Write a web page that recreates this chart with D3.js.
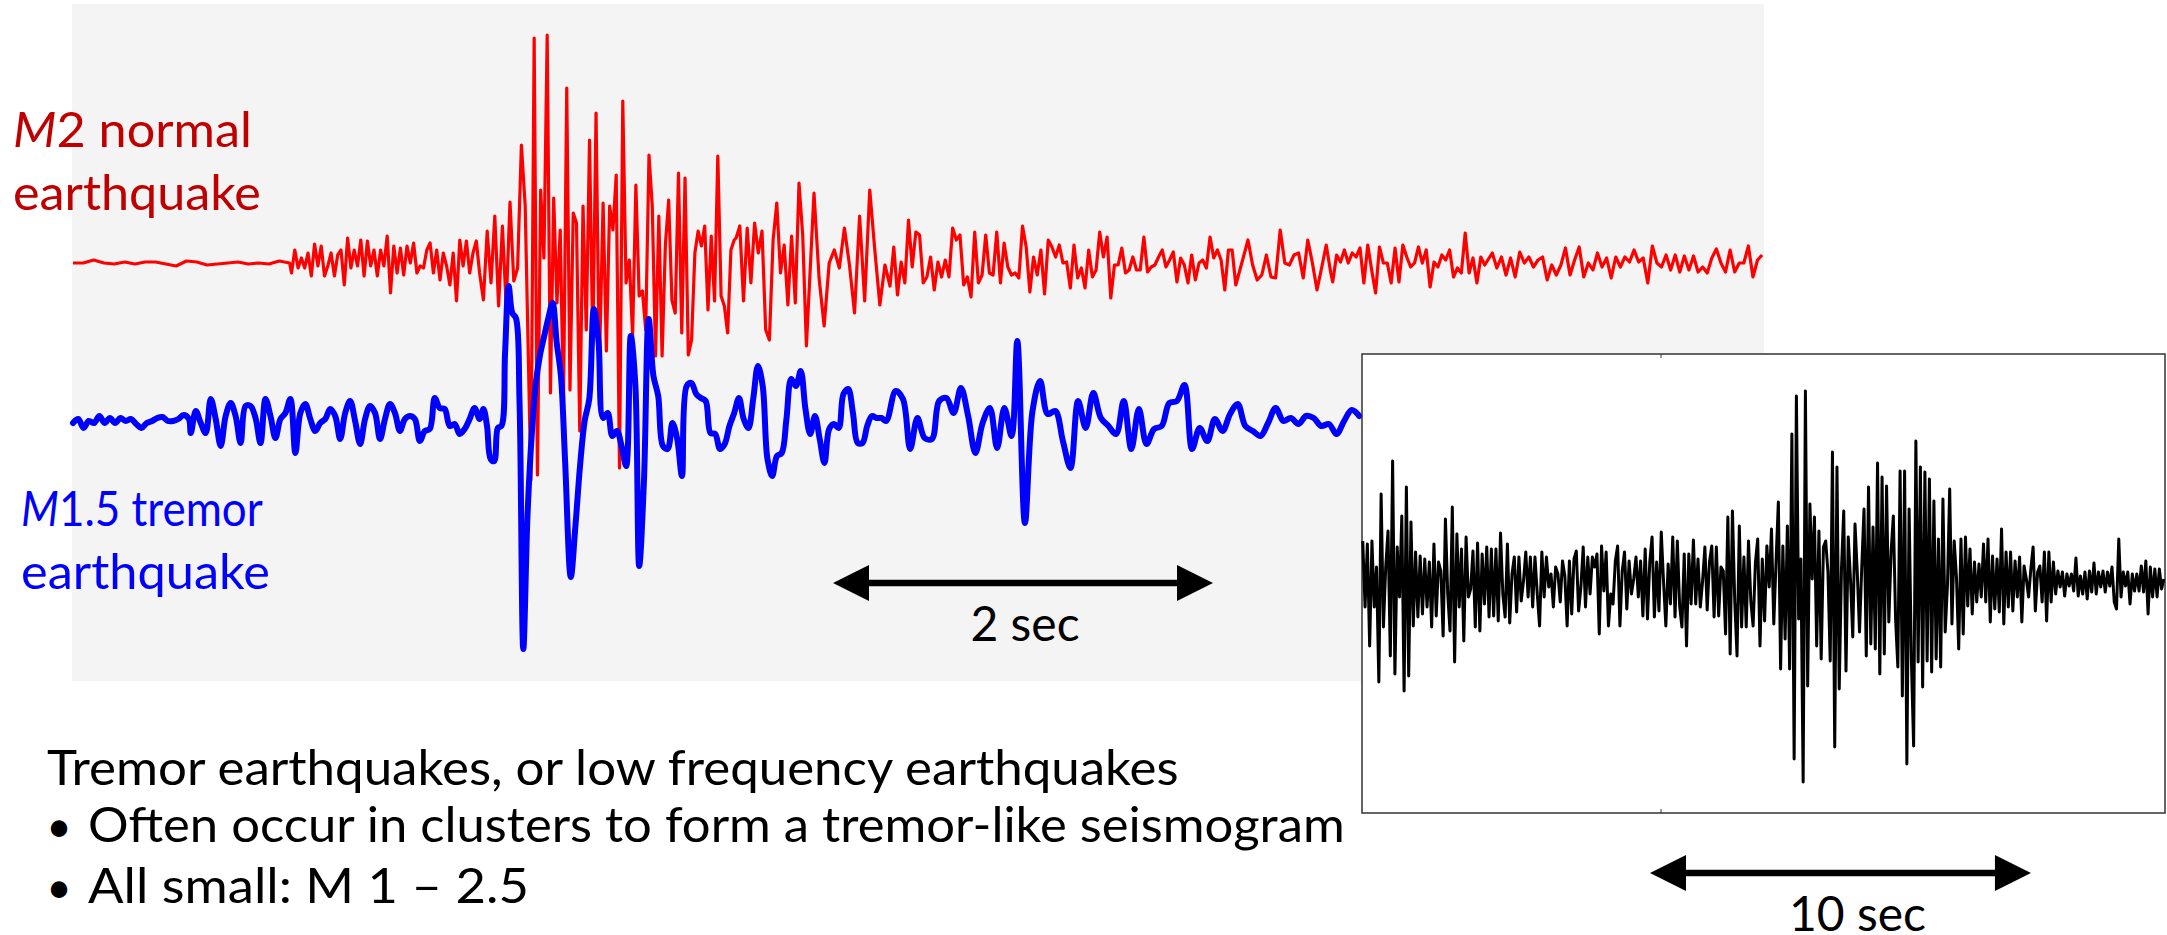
<!DOCTYPE html>
<html>
<head>
<meta charset="utf-8">
<script src="https://cdn.jsdelivr.net/npm/d3@7"></script>
<style>
  html, body { margin: 0; padding: 0; background: #fff; }
  svg { display: block; }
  text { font-family: Lato, "Open Sans", sans-serif; }
</style>
</head>
<body>
<svg id="chart" width="2167" height="935"></svg>
<script>
// Amplitudes are relative to each trace's zero line.
// Each trace is stored in pieces; a piece runs over a time span (seconds).

// M2 normal earthquake (red)
const redQuiet = [0,0,3,0,-1,1,-1,1,1,-1,-3,2,1,-2,-1,0,1,-1,0,-1,2,0];
const redOnset = [-10,13,-5,5,-5,10,-13,19,-3,17,-13,-3,10,-13,8,13,-22,25,-5,13,-3,23,-13,22,-3,13,-13,13,-3,27,
  -30,17,-10,15,-12,17,0,20,-10,-3,-5,13,20,-10,13,-17,10,-3,-22,10,-38,23,-3,22,-10,10,22,-10];
const redBurstA = [-37,32,-20,47,-43,37,-43,61,-18,-5,118,57];
const redBurstB = [-217,225,-212,73,5,228,-130,65,-40,33,-143,175,-127,50,40,-168,57,-67,123,-83,150,-107];
const redBurstC = [60,-88,57,33,88,-205,162,-20,3,-73,78,-33,-28,-67,108,57,-93,47,-93,18,63,-37,-50,90,-70,
  85,-92,-77,10,32,17,37,-47,27,-38,107,-33,-43,-70,13,23];
const redCodaA = [25,37,-38,35,-20,40,10,32,-67,-77,23,60,-10,18,-42,27,-40,80,28,-83];
const redCodaB = [70,-15,-63,0,13,-5,35,-2,-50,47,-38,73,13,-42,-2,-23];
const redTailA = [16,-32,1,-20,43,-4,31,28,-20,-14,
  6,-27,1,-14,3,-14,35,23,28,-22,
  -14,-34,31,-20,-12,28,-10,-12,31,-20,
  20,-4,-12,-10,-15,37,16,-29,6,-12,
  13,-31,23,16,6,18,0,1,-25,18,
  -15,-5,-25,13,-14,-7,31,6,26,-35,
  -2,-2,15,-10,-7,6,-7,-7,26,-9,
  -4,-2,6,13,-4,3,11,-19,5,-2,
  -20,8,-17,0,3,-5,26,5,13,3,
  -27,13,13,-22];
const redTailB = [6,23,-2,-17,-12,8,-14,-15,33,0,-2,8,10,-15,23,0,-27,-5,18,-10];
const redEndA = [-19,8,1,13,0,10,6,15,-20,18,-7,-30,16,0,0,-20,15,-19,18,6,
  -4,0,16,0,13,-24,1,-4,8,3,13,-14,-5,-10,30,-10,5,-20,6,-2];
const redEndB = [10,-5,6,-12,5,-14,11,0,6,-4,3,6,-17,-2,-12,-2,15,-12,3,16,
  -14,0,-7,10,-4,5,-15,6,-4,6,1,13,1,5,-20,17,0,-4,8,-7,
  8,-9,7,-7,7,-9,-4,-10,5,14,0,-9,13,-9,0,0,17,-14,3,8];
const redSpans = [[0,1.14],[1.15,2.14],[2.16,2.38],[2.41,2.77],[2.79,3.48],[3.49,3.86],
  [3.90,4.30],[4.32,6.12],[6.16,6.62],[6.63,7.43],[7.47,8.89]];

// M1.5 tremor earthquake (blue)
const blueQuiet = [-2,2,-7,0,-2,5,-2,3,-2,3,0,2,-3,-7,-2,0,3,4,0,0,2,6,2];
const blueOnset = [-12,10,-2,-12,22,2,-25,5,18,5,-22,15,15,3,-22,22,5,-17,2,8,
  22,-32,8,17,2,-10,-2,2,12,5,-18,8,20,0,-23,2,15,8,-18,2,
  17,8,-10,2,5,2,-20,-10,-8,23,13,12,-5,-3,-13,-8,2,13,2];
const blueBurstA = [12,-5,-38,-40,-7,-5,68,135,108,103,20];
const blueBurstB = [-228,-95,-15,38,66,85,103,118,78,45,-40];
const blueBurstC = [-156,-105,-45,0,22,112,80,3,8,-15,-10,-25,-45,85,35];
const blueCodaA = [-145,-60,102,45,25,-25,-28,-2,-18,-55,35,38,27,23,20,-12,-13,-28,-23,-5,
  8,23,2,-7,22,55,35,-38,-55,-35,-32,2,42,35,50,12,-13,5,-18,-42,
  -8,-3,-7,27,32,8,-22,-22,-5,5,3,3,0];
const blueCodaB = [30,22,-28,3,-17,-18,20,23,8,33,5,-32,-2,13,-27,13,-15];
const blueTail = [80,-102,10,40,7,10,-20,-47,20,-7,28,3,-5,-13,20,-28,12,-23,-8,-5,
  18,20,36,-28,-7,-20,2,-10,7,17,-5,-10,-15,-2,13,0,3,-3,5,3,-5,-3,-13,0,11,5];
const blueSpans = [[0,0.61],[0.62,2.14],[2.16,2.35],[2.37,2.59],[2.62,2.96],[2.98,4.28],
  [4.33,4.94],[4.97,6.77]];

// tremor-like seismogram (inset, black)
const tremorA = [38,-28,35,-67,38,-28,12,-103,85,-48,
  12,48,-77,118,-95,32,-18,63,-112,92,
  -97,57,-47,27,-38,23,-35,20,-28,17,
  -48,35,-37,17,8,-57,60,-15,-52,72,
  -83,45,-28,30,-62,42,-18,-10,28,-48,
  36,-52,25,-25,32,-38,30,-37,30,-42,
  46,-15,-38,35,-44,5,22,-33,22,-22,
  -2,27,-18,22,-28,22,-15,-47,27,-18,
  22,-8,5,-28,12,5,-23,18,3,-47,
  18,-35,20,28,-32,-8,32,-28,22,-15,
  22,12,25,-55,33,-12,27,-47,-15,-25,
  18,33,-47,8,27,-30,18,-15,0,22,
  -18,18,-37,30,-40,17,42,-38,17,-32,
  47,-3,-47,15,-25,42,-38,38,-27,-48,
  25,-67,25,-25,39,-25,20,-28,-2,32,
  -31,17,33,-38,32,-37,12,8,-55,62,
  -75,68,-22,-77,53,-48,22,-48,38,-22,
  -47,16,40,-67,20,-42,33,-8,50,-45,
  18];
const tremorB = [77,-90,33,-60,53,-90,145,-180,183,-40,
  20,-203,188,-107,75,0,62,-67,48,-80,
  32,38,7,-82,127,-168,112,-110,10,68,
  -92,42,0,-58,55,7,-53,12,70,-77,
  92,-65,52,-70,116,-95,102,-75,93,-43,
  27,63,-40,-88,108,-117,108,-185,70,-80,
  -167,138,-83,112,-108,107,-82,100,-93,78,
  -80,40,-88,80,-53,-7,90,-45,38,2,
  -70,40,-55,42,-27,30,-35,17,-23,15,
  -18,35,-23,40,-43,23,-30,20,-33,50,
  -45,27,-28,27,-32,18,-18,22,-43,13,
  0,-18,10,32,-32,7,13,-23,27,-42,
  27,-23,17,-15,8,-8,7,-17,5,-7,
  5,-12,21,-17,3,-15,7,-20,8,-13,
  16,-15,7,-8,8,-13,7,-7,12,-23,
  -30,40,-18,7,-7,7,-25,5,-12,5,
  -12,13,-13,18,-35,12,-18,10,-18,10,
  -10,0];
const tremorSpans = [[0.02,10.87],[10.93,21.05]];
const insetTicks = [7.85];

// scale bars: start time, length (s), label
const barStart = [4, 7.56];
const barLength = [2, 10];
const barLabels = ["2 sec", "10 sec"];

const bulletLines = ["Often occur in clusters to form a tremor-like seismogram", "All small: M 1 \u2013 2.5"];
const heading = "Tremor earthquakes, or low frequency earthquakes";

// ---- drawing ----
const svg = d3.select("#chart");

const mainX = d3.scaleLinear().domain([0, 8.9]).range([73, 1764]);
const redY = d3.scaleLinear().domain([-250, 250]).range([513, 13]);
const blueY = d3.scaleLinear().domain([-250, 250]).range([671, 171]);
const insetX = d3.scaleLinear().domain([0, 21.08]).range([1362, 2165]);
const insetY = d3.scaleLinear().domain([-230, 230]).range([809, 349]);

function toPoints(spans, pieces) {
  let pts = [];
  pieces.forEach((vals, i) => {
    let [t0, t1] = spans[i];
    vals.forEach((v, k) => {
      pts.push({ t: t0 + (t1 - t0) * k / (vals.length - 1), v: v });
    });
  });
  return pts;
}

const redPts = toPoints(redSpans, [redQuiet, redOnset, redBurstA, redBurstB, redBurstC,
  redCodaA, redCodaB, redTailA, redTailB, redEndA, redEndB]);
const bluePts = toPoints(blueSpans, [blueQuiet, blueOnset, blueBurstA, blueBurstB, blueBurstC,
  blueCodaA, blueCodaB, blueTail]);
const tremorPts = toPoints(tremorSpans, [tremorA, tremorB]);

// grey panel behind the two traces
svg.append("rect")
  .attr("x", 72).attr("y", 4)
  .attr("width", 1692).attr("height", 677)
  .attr("fill", "#f4f4f4");

svg.append("path")
  .datum(redPts)
  .attr("fill", "none")
  .attr("stroke", "#ff0000")
  .attr("stroke-width", 3.2)
  .attr("stroke-linejoin", "round")
  .attr("d", d3.line().x((d) => mainX(d.t)).y((d) => redY(d.v)));

svg.append("path")
  .datum(bluePts)
  .attr("fill", "none")
  .attr("stroke", "#0000ff")
  .attr("stroke-width", 6)
  .attr("stroke-linejoin", "round")
  .attr("stroke-linecap", "round")
  .attr("d", d3.line().curve(d3.curveCatmullRom.alpha(0.5))
    .x((d) => mainX(d.t)).y((d) => blueY(d.v)));

// inset box
svg.append("rect")
  .attr("x", 1362).attr("y", 354)
  .attr("width", 803).attr("height", 459)
  .attr("fill", "#fff")
  .attr("stroke", "#333")
  .attr("stroke-width", 1.5);

insetTicks.forEach((t) => {
  svg.append("line").attr("x1", insetX(t)).attr("x2", insetX(t))
    .attr("y1", 354).attr("y2", 358).attr("stroke", "#333");
  svg.append("line").attr("x1", insetX(t)).attr("x2", insetX(t))
    .attr("y1", 813).attr("y2", 809).attr("stroke", "#333");
});

svg.append("path")
  .datum(tremorPts)
  .attr("fill", "none")
  .attr("stroke", "#000")
  .attr("stroke-width", 3)
  .attr("stroke-linejoin", "round")
  .attr("d", d3.line().x((d) => insetX(d.t)).y((d) => insetY(d.v)));

// stretch a text horizontally so it covers the width seen in the picture
function fitWidth(sel, x, width) {
  let w = sel.node().getBBox().width;
  sel.attr("transform", `translate(${x},0) scale(${width / w},1) translate(${-x},0)`);
}

// scale bars
const barScales = [mainX, insetX];
const barY = [583, 873];
const labelShift = [2, 17];
barLabels.forEach((label, i) => {
  let sc = barScales[i];
  let x0 = sc(barStart[i]);
  let x1 = sc(barStart[i] + barLength[i]);
  let y = barY[i];
  svg.append("line")
    .attr("x1", x0 + 30).attr("x2", x1 - 30)
    .attr("y1", y).attr("y2", y)
    .attr("stroke", "#000").attr("stroke-width", 6.5);
  svg.append("path")
    .attr("d", `M${x0},${y}L${x0 + 36},${y - 18}L${x0 + 36},${y + 18}Z`)
    .attr("fill", "#000");
  svg.append("path")
    .attr("d", `M${x1},${y}L${x1 - 36},${y - 18}L${x1 - 36},${y + 18}Z`)
    .attr("fill", "#000");
  svg.append("text")
    .attr("x", (x0 + x1) / 2 + labelShift[i])
    .attr("y", y + 58)
    .attr("text-anchor", "middle")
    .attr("font-size", 48)
    .attr("fill", "#000")
    .text(label);
});

// trace labels
function traceLabel(first, rest, second, x, y, colour, w1, w2) {
  let t1 = svg.append("text").attr("x", x).attr("y", y)
    .attr("font-size", 49).attr("fill", colour);
  t1.append("tspan").attr("font-style", "italic").text(first);
  t1.append("tspan").text(rest);
  fitWidth(t1, x, w1);
  let t2 = svg.append("text").attr("x", x).attr("y", y + 63)
    .attr("font-size", 49).attr("fill", colour)
    .text(second);
  fitWidth(t2, x, w2);
}

traceLabel("M", "2 normal", "earthquake", 13, 147, "#c00000", 239, 248);
traceLabel("M", "1.5 tremor", "earthquake", 21, 526, "#0000ff", 242, 249);

// notes under the panel
let head = svg.append("text").attr("x", 47).attr("y", 785)
  .attr("font-size", 49).attr("fill", "#000").text(heading);
fitWidth(head, 47, 1132);

const bulletWidths = [1257, 441];
bulletLines.forEach((line, i) => {
  let y = 842 + i * 61;
  svg.append("text").attr("x", 59).attr("y", y)
    .attr("text-anchor", "middle")
    .attr("font-size", 44).attr("fill", "#000").text("\u2022");
  let t = svg.append("text").attr("x", 88).attr("y", y)
    .attr("font-size", 49).attr("fill", "#000").text(line);
  fitWidth(t, 88, bulletWidths[i]);
});
</script>
</body>
</html>
